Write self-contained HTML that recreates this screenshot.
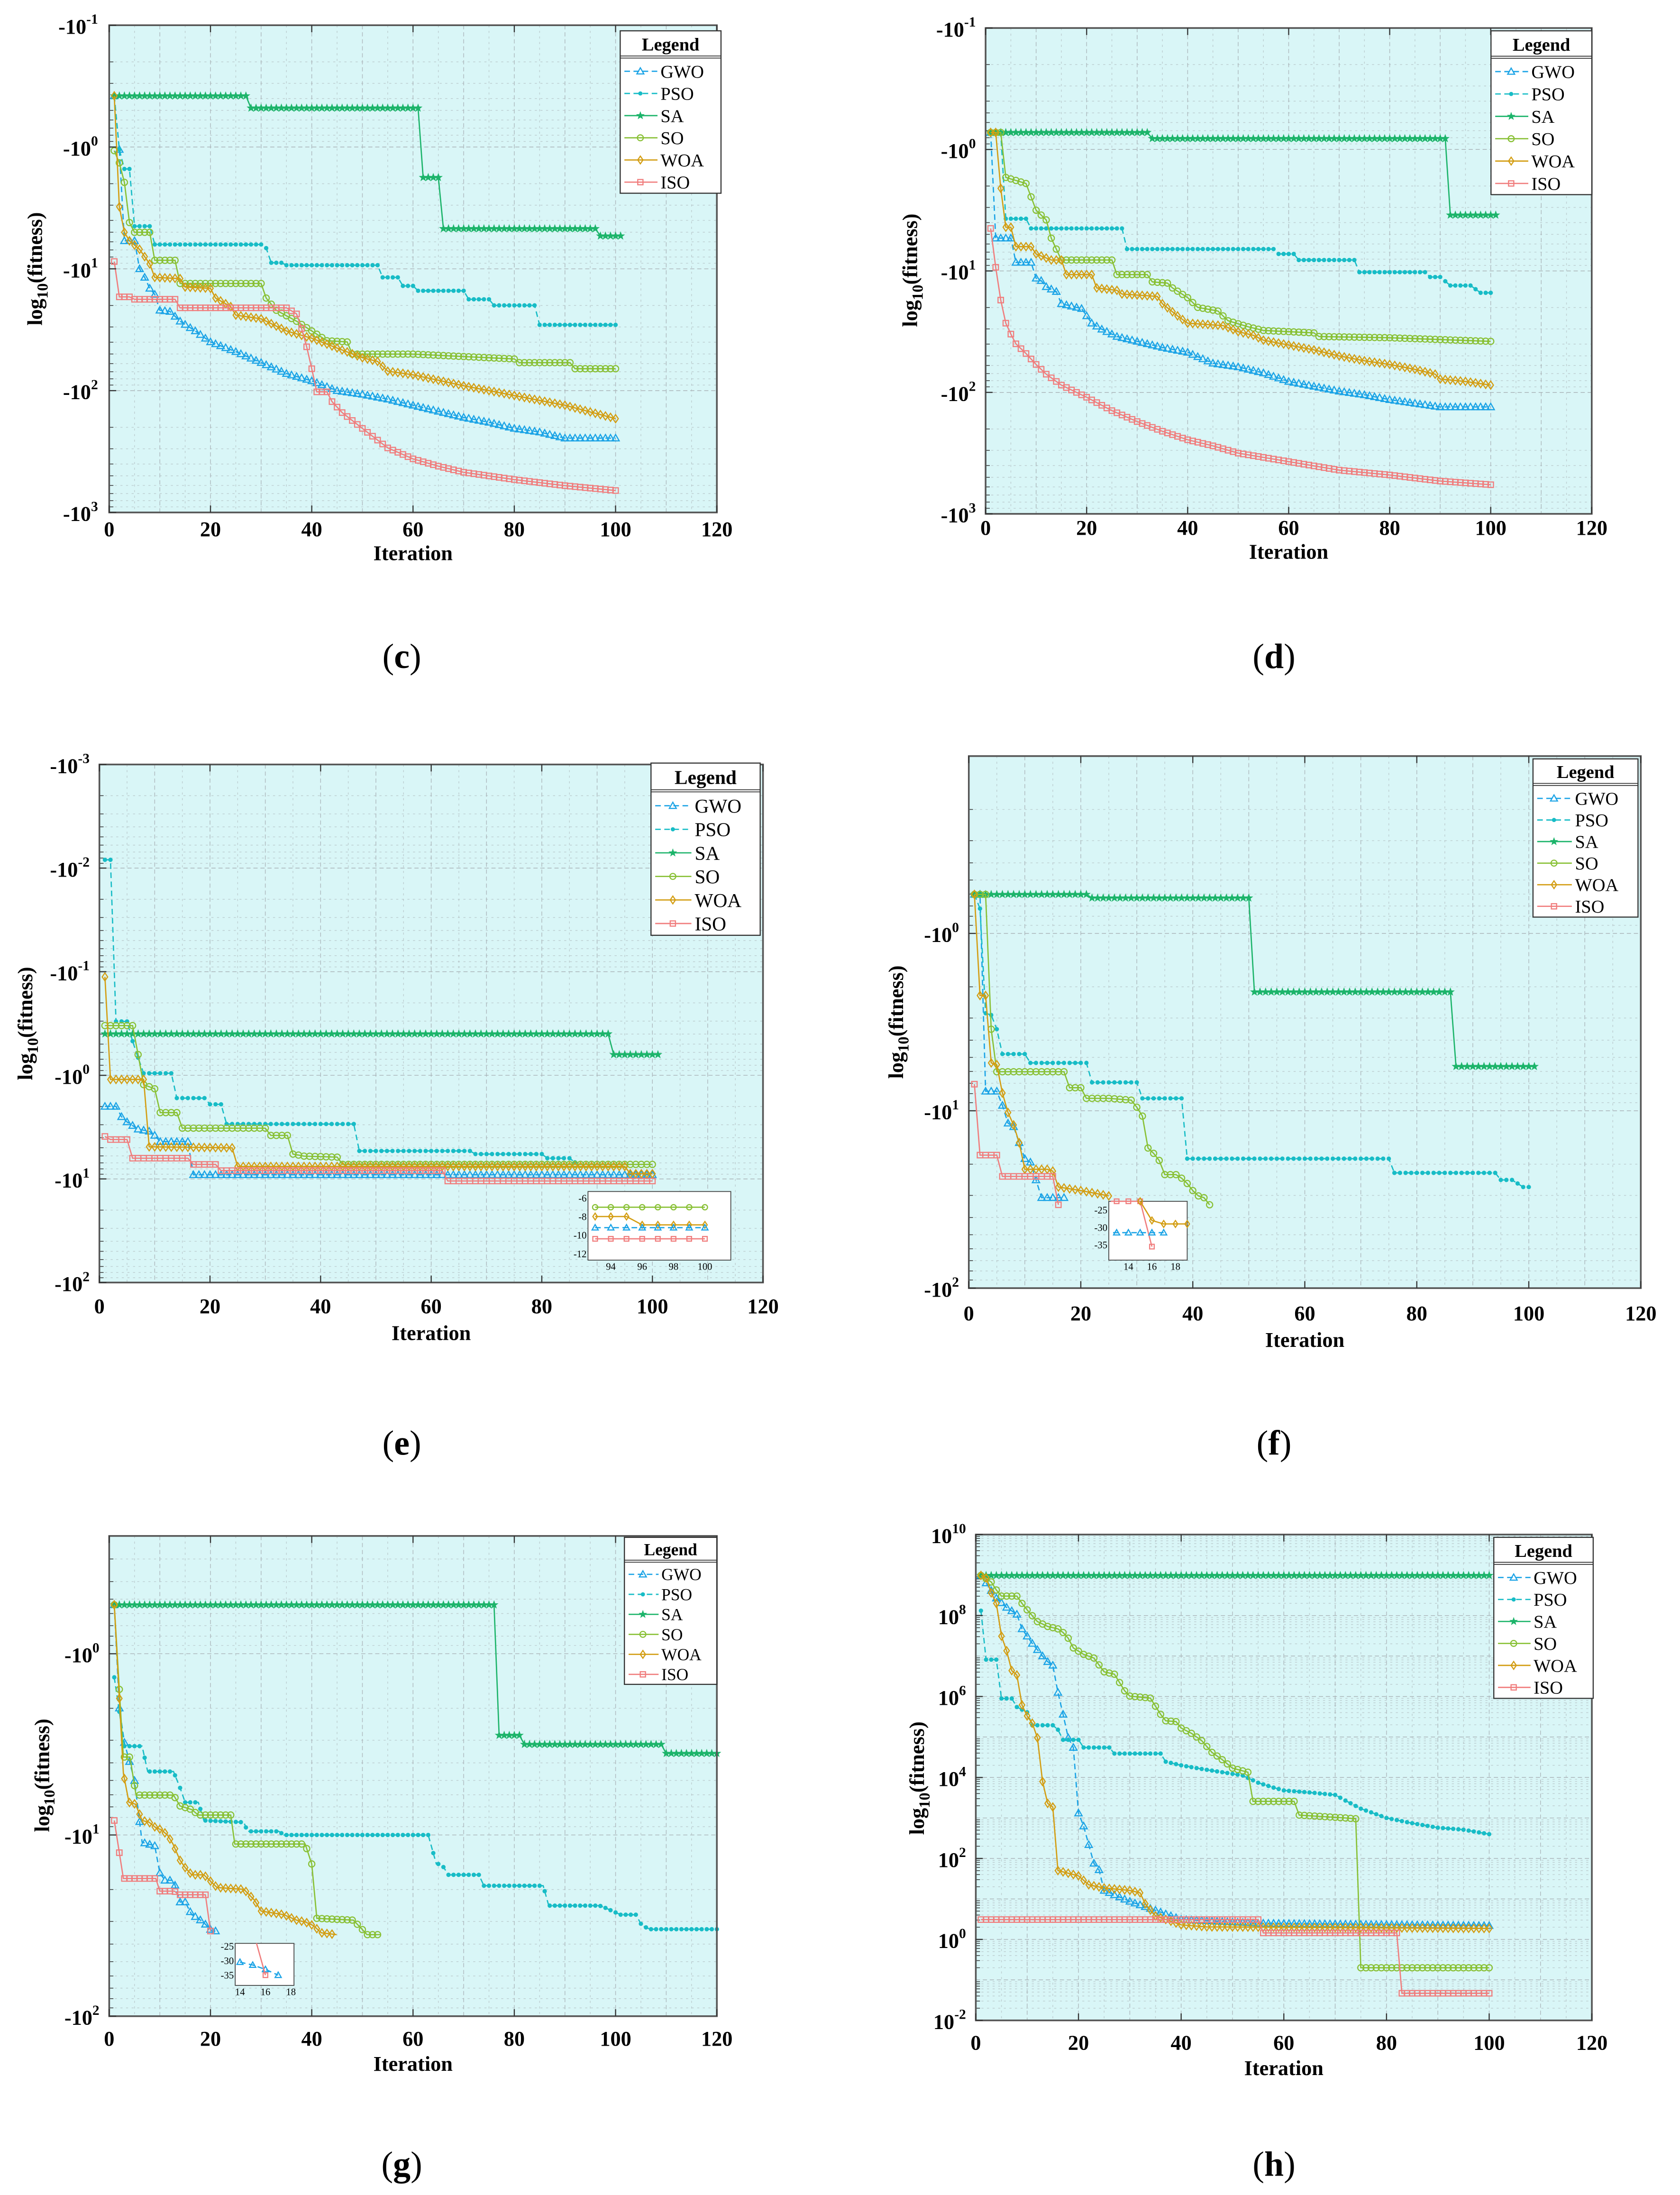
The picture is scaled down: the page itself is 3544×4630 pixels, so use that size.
<!DOCTYPE html>
<html><head><meta charset="utf-8">
<style>
html,body{margin:0;padding:0;background:#fff;}
svg{display:block;}
text{font-family:"Liberation Serif",serif;}
</style></head>
<body>
<svg id="chart" width="3544" height="4630" viewBox="0 0 1200 1567.7" xmlns="http://www.w3.org/2000/svg"></svg>
<script>
// ===== DATA (iteration, log10 exponent) =====
// Panel c
const c_GWO=[[1,-0.42],[2,0.02],[3,0.77],[5,0.77],[6,1.0],[7,1.07],[8,1.16],[9,1.21],[10,1.34],[12,1.35],[14,1.43],[17,1.51],[20,1.6],[25,1.68],[30,1.77],[35,1.86],[40,1.92],[45,2.0],[50,2.03],[55,2.07],[60,2.12],[65,2.17],[70,2.22],[75,2.26],[80,2.31],[85,2.34],[90,2.39],[100,2.39]];
const c_PSO=[[1,-0.42],[2,0.02],[3,0.18],[4,0.18],[5,0.65],[8,0.65],[9,0.80],[30,0.80],[31,0.83],[32,0.95],[34,0.95],[35,0.97],[53,0.97],[54,1.07],[57,1.07],[58,1.14],[60,1.14],[61,1.18],[70,1.18],[71,1.25],[75,1.25],[76,1.30],[84,1.30],[85,1.46],[100,1.46]];
const c_SA=[[1,-0.42],[27,-0.42],[28,-0.32],[61,-0.32],[62,0.25],[65,0.25],[66,0.67],[96,0.67],[97,0.73],[101,0.73]];
const c_SO=[[1,0.03],[2,0.13],[3,0.29],[4,0.62],[5,0.70],[8,0.70],[9,0.93],[13,0.93],[14,1.12],[30,1.12],[31,1.24],[33,1.34],[37,1.43],[40,1.51],[43,1.59],[47,1.60],[48,1.70],[60,1.70],[70,1.72],[80,1.74],[81,1.77],[91,1.77],[92,1.82],[100,1.82]];
const c_WOA=[[1,-0.42],[2,0.49],[3,0.70],[4,0.77],[6,0.84],[8,0.96],[9,1.07],[14,1.08],[15,1.15],[20,1.16],[21,1.24],[24,1.31],[25,1.38],[30,1.41],[35,1.51],[40,1.57],[45,1.65],[50,1.73],[53,1.76],[55,1.84],[60,1.87],[70,1.96],[80,2.04],[90,2.12],[100,2.23]];
const c_ISO=[[1,0.94],[2,1.23],[4,1.23],[5,1.25],[13,1.25],[14,1.32],[35,1.32],[37,1.37],[38,1.49],[39,1.64],[40,1.82],[41,2.01],[43,2.01],[44,2.09],[46,2.18],[50,2.31],[55,2.47],[60,2.56],[65,2.62],[70,2.67],[80,2.73],[90,2.78],[100,2.82]];
// Panel d
const d_GWO=[[1,-0.14],[2,0.73],[5,0.73],[6,0.93],[9,0.93],[10,1.06],[11,1.08],[12,1.13],[14,1.17],[15,1.27],[19,1.31],[21,1.43],[23,1.48],[26,1.54],[30,1.58],[35,1.63],[40,1.67],[45,1.76],[50,1.79],[55,1.84],[60,1.91],[65,1.95],[70,1.99],[75,2.02],[80,2.06],[85,2.09],[90,2.12],[100,2.12]];
const d_PSO=[[1,-0.14],[3,-0.14],[4,0.57],[8,0.57],[9,0.65],[27,0.65],[28,0.82],[57,0.82],[58,0.86],[61,0.86],[62,0.91],[73,0.91],[74,1.01],[87,1.01],[88,1.05],[90,1.05],[92,1.12],[96,1.12],[98,1.18],[100,1.18]];
const d_SA=[[1,-0.14],[32,-0.14],[33,-0.09],[91,-0.09],[92,0.54],[101,0.54]];
const d_SO=[[1,-0.14],[3,-0.14],[4,0.23],[8,0.28],[9,0.39],[10,0.50],[12,0.58],[13,0.73],[15,0.91],[25,0.91],[26,1.03],[32,1.03],[33,1.09],[36,1.10],[37,1.14],[40,1.22],[42,1.30],[46,1.33],[48,1.41],[52,1.46],[55,1.49],[65,1.51],[66,1.54],[80,1.55],[100,1.58]];
const d_WOA=[[1,-0.14],[2,-0.14],[3,0.32],[4,0.64],[5,0.64],[6,0.80],[9,0.80],[10,0.86],[13,0.91],[15,0.91],[16,1.03],[21,1.03],[22,1.14],[26,1.16],[27,1.19],[34,1.21],[35,1.27],[38,1.37],[40,1.43],[47,1.45],[50,1.50],[53,1.53],[55,1.57],[60,1.61],[65,1.65],[70,1.70],[75,1.74],[80,1.77],[85,1.81],[89,1.85],[90,1.89],[95,1.91],[100,1.94]];
const d_ISO=[[1,0.65],[2,0.97],[3,1.24],[4,1.43],[5,1.52],[6,1.60],[8,1.68],[10,1.77],[12,1.85],[15,1.94],[20,2.04],[25,2.15],[30,2.24],[35,2.32],[40,2.39],[45,2.44],[50,2.50],[60,2.57],[70,2.64],[80,2.68],[90,2.73],[100,2.76]];
// Panel e
const e_GWO=[[1,0.30],[3,0.30],[4,0.40],[5,0.45],[7,0.52],[9,0.54],[10,0.58],[11,0.64],[16,0.64],[17,0.96],[100,0.96]];
const e_PSO=[[1,-2.08],[2,-2.08],[3,-0.52],[5,-0.52],[6,-0.33],[7,-0.17],[8,-0.02],[13,-0.02],[14,0.22],[19,0.22],[20,0.28],[22,0.28],[23,0.47],[46,0.47],[47,0.73],[67,0.73],[68,0.76],[80,0.76],[81,0.80],[85,0.80],[86,0.84]];
const e_SA=[[1,-0.40],[92,-0.40],[93,-0.20],[101,-0.20]];
const e_SO=[[1,-0.48],[6,-0.48],[7,-0.20],[8,0.09],[10,0.13],[11,0.36],[14,0.36],[15,0.51],[30,0.51],[31,0.58],[34,0.58],[35,0.76],[37,0.78],[43,0.79],[44,0.86],[100,0.86]];
const e_WOA=[[1,-0.95],[2,0.04],[8,0.04],[9,0.69],[24,0.70],[25,0.88],[95,0.88],[96,0.95],[100,0.95]];
const e_ISO=[[1,0.59],[2,0.62],[5,0.62],[6,0.80],[16,0.80],[17,0.86],[21,0.86],[22,0.92],[62,0.92],[63,1.02],[100,1.02]];
const e_in_SO=[[93,-7],[100,-7]];
const e_in_WOA=[[93,-8],[95,-8],[96,-8.9],[100,-8.9]];
const e_in_GWO=[[93,-9.2],[100,-9.2]];
const e_in_ISO=[[93,-10.4],[100,-10.4]];
// Panel f
const f_GWO=[[1,-0.22],[2,-0.22],[3,0.89],[5,0.89],[6,0.97],[7,1.07],[8,1.09],[9,1.18],[10,1.27],[11,1.29],[12,1.39],[13,1.49],[17,1.49]];
const f_PSO=[[1,-0.22],[2,-0.14],[3,0.45],[4,0.46],[5,0.54],[6,0.68],[10,0.68],[11,0.73],[21,0.73],[22,0.84],[30,0.84],[31,0.93],[38,0.93],[39,1.27],[75,1.27],[76,1.35],[94,1.35],[95,1.39],[97,1.39],[98,1.41],[99,1.43],[100,1.43]];
const f_SA=[[1,-0.22],[21,-0.22],[22,-0.20],[50,-0.20],[51,0.33],[86,0.33],[87,0.75],[101,0.75]];
const f_SO=[[1,-0.22],[3,-0.22],[4,0.54],[5,0.78],[17,0.78],[18,0.87],[20,0.87],[21,0.93],[25,0.93],[29,0.94],[30,0.98],[31,1.03],[32,1.21],[33,1.24],[34,1.28],[35,1.36],[37,1.36],[38,1.38],[39,1.41],[40,1.45],[41,1.48],[42,1.49],[43,1.53]];
const f_WOA=[[1,-0.22],[2,0.35],[3,0.35],[4,0.73],[5,0.74],[6,0.90],[7,1.01],[8,1.08],[9,1.18],[10,1.33],[14,1.33],[15,1.34],[16,1.43],[20,1.45],[25,1.48]];
const f_ISO=[[1,0.85],[2,1.25],[5,1.25],[6,1.37],[15,1.37],[16,1.53]];
const f_in_ISO=[[12.5,-22.5],[15,-22.5],[16,-35.5]];
const f_in_WOA=[[15,-22.5],[16,-28],[17,-29],[19,-29]];
const f_in_GWO=[[12.7,-31.5],[17,-31.5]];
// Panel g
const g_GWO=[[1,-0.27],[2,0.30],[3,0.49],[5,0.70],[6.5,1.04],[9,1.06],[10,1.21],[11,1.25],[12.7,1.25],[14,1.37],[15,1.37],[16.3,1.44],[17.6,1.46],[18.9,1.49],[20.3,1.53],[21,1.53]];
const g_PSO=[[1,0.13],[2,0.32],[3,0.51],[6.5,0.51],[7.6,0.65],[12.7,0.65],[14,0.74],[15,0.82],[17.6,0.82],[18.7,0.92],[26.6,0.93],[27.3,0.98],[33.5,0.98],[34.5,1.0],[63,1.0],[64.6,1.16],[65.6,1.16],[67,1.22],[73,1.22],[74,1.28],[85.7,1.28],[86.8,1.39],[96.8,1.39],[97.8,1.40],[101,1.44],[104,1.44],[105.2,1.50],[106.8,1.52],[120,1.52]];
const g_SA=[[1,-0.27],[76,-0.27],[77,0.45],[81,0.45],[82,0.50],[109,0.50],[110,0.55],[120,0.55]];
const g_SO=[[1,-0.27],[2.8,0.57],[4.1,0.57],[5.3,0.78],[12.7,0.78],[14,0.84],[16.3,0.86],[17.6,0.89],[24,0.89],[24.8,1.05],[38.7,1.05],[40,1.16],[41,1.46],[48.2,1.47],[49.6,1.51],[50.9,1.55],[53.5,1.55]];
const g_WOA=[[1,-0.27],[2.8,0.66],[3.9,0.82],[5.2,0.83],[6.5,0.92],[7.9,0.93],[9.2,0.96],[10.2,0.97],[11.5,1.0],[12.6,1.05],[14,1.14],[15,1.18],[16.3,1.22],[18.7,1.22],[21.3,1.29],[26.6,1.30],[28.7,1.36],[30,1.42],[34.5,1.44],[37,1.47],[38.7,1.48],[40.3,1.50],[41.9,1.54],[44.9,1.55]];
const g_ISO=[[1,0.92],[2.8,1.24],[9.2,1.24],[10,1.31],[12.9,1.31],[13.7,1.33],[19,1.33],[20,1.53]];
const g_in_GWO=[[14,-30.5],[15,-31.5],[16,-33],[17,-35]];
const g_in_ISO=[[15.3,-24],[16,-35]];
// Panel h (positive log axis)
const h_GWO=[[1,8.99],[4,8.43],[6,8.2],[8,8.03],[9,7.67],[10,7.49],[11,7.31],[13,7.0],[14,6.86],[15,6.77],[16,6.1],[17,5.56],[18,4.98],[19,4.74],[20,3.12],[21,2.8],[23,1.88],[24,1.72],[25,1.21],[30,0.94],[35,0.72],[40,0.49],[55,0.40],[100,0.34]];
const h_PSO=[[1,8.12],[2,6.91],[4,6.91],[5,5.95],[7,5.95],[8,5.74],[10,5.61],[11,5.29],[15,5.29],[16,5.18],[17,4.93],[20,4.93],[21,4.74],[26,4.74],[27,4.59],[36,4.59],[37,4.39],[40,4.30],[44,4.21],[48,4.13],[52,4.05],[55,3.87],[58,3.75],[60,3.68],[65,3.63],[70,3.57],[72,3.43],[75,3.23],[80,3.0],[85,2.87],[90,2.76],[95,2.71],[100,2.60]];
const h_SA=[[1,8.99],[100,8.99]];
const h_SO=[[1,8.99],[3,8.83],[4,8.63],[5,8.48],[8,8.48],[9,8.3],[10,8.14],[12,7.85],[14,7.73],[16,7.67],[17,7.58],[18,7.44],[19,7.2],[21,7.04],[23,6.95],[25,6.61],[27,6.55],[29,6.14],[30,6.01],[34,5.96],[36,5.56],[37,5.4],[39,5.38],[40,5.22],[42,5.09],[44,4.91],[46,4.62],[48,4.44],[50,4.23],[53,4.13],[54,3.41],[62,3.41],[63,3.07],[72,3.0],[74,2.98],[75,-0.7],[100,-0.7]];
const h_WOA=[[1,8.99],[2,8.93],[3,8.56],[4,8.3],[5,7.49],[6,7.13],[7,6.64],[8,6.53],[9,5.79],[10,5.52],[11,5.34],[12,4.98],[13,3.9],[14,3.36],[15,3.27],[16,1.70],[20,1.57],[22,1.35],[25,1.27],[30,1.21],[32,1.15],[33,0.88],[35,0.58],[40,0.36],[45,0.31],[100,0.27]];
const h_ISO=[[1,0.49],[55,0.49],[56,0.16],[82,0.16],[83,-1.33],[100,-1.33]];

// ===== STYLE / LAYOUT =====
const NS='http://www.w3.org/2000/svg';
const svg=document.getElementById('chart');
function mk(tag,attrs,parent){const e=document.createElementNS(NS,tag);for(const k in attrs)e.setAttribute(k,attrs[k]);parent.appendChild(e);return e;}
const STY={
 GWO:{c:'#1aa3e6',dash:'4,2.5',m:'tri'},
 PSO:{c:'#17bcc6',dash:'4,2.5',m:'dot'},
 SA:{c:'#1cb46a',dash:'',m:'star'},
 SO:{c:'#88c034',dash:'',m:'circ'},
 WOA:{c:'#d39d12',dash:'',m:'dia'},
 ISO:{c:'#f07d7d',dash:'',m:'sq'}
};
const ORDER=['GWO','PSO','SA','SO','WOA','ISO'];
function marker(g,type,x,y,c,s){
 let e;
 if(type==='tri'){e=mk('polygon',{points:`${x},${y-s} ${x-s},${y+s*0.75} ${x+s},${y+s*0.75}`,fill:'none',stroke:c,'stroke-width':0.8},g);}
 else if(type==='dot'){e=mk('circle',{cx:x,cy:y,r:s*0.6,fill:c},g);}
 else if(type==='star'){let p=[];for(let i=0;i<10;i++){const a=-Math.PI/2+i*Math.PI/5;const r=i%2?s*0.45:s*1.1;p.push((x+r*Math.cos(a)).toFixed(2)+','+(y+r*Math.sin(a)).toFixed(2));}e=mk('polygon',{points:p.join(' '),fill:c,stroke:c,'stroke-width':0.3},g);}
 else if(type==='circ'){e=mk('circle',{cx:x,cy:y,r:s*0.85,fill:'none',stroke:c,'stroke-width':0.8},g);}
 else if(type==='dia'){e=mk('polygon',{points:`${x},${y-s*1.1} ${x+s*0.75},${y} ${x},${y+s*1.1} ${x-s*0.75},${y}`,fill:'none',stroke:c,'stroke-width':0.8},g);}
 else {e=mk('rect',{x:x-s*0.75,y:y-s*0.75,width:s*1.5,height:s*1.5,fill:'none',stroke:c,'stroke-width':0.8},g);}
 
 
}
function interp(pts,t){for(let i=0;i<pts.length-1;i++){if(t>=pts[i][0]&&t<=pts[i+1][0]){const a=pts[i],b=pts[i+1];if(b[0]===a[0])return b[1];return a[1]+(b[1]-a[1])*(t-a[0])/(b[0]-a[0]);}}return pts[pts.length-1][1];}
function drawSeries(g,pts,name,X,Y,ms,step){
 const st=STY[name];
 const sg=mk('g',{},g);
 
 
 const l=mk('polyline',{points:pts.map(p=>X(p[0]).toFixed(2)+','+Y(p[1]).toFixed(2)).join(' '),fill:'none',stroke:st.c,'stroke-width':0.9,'stroke-dasharray':st.dash||'none'},sg);
 
 
 const t0=Math.ceil(pts[0][0]),t1=pts[pts.length-1][0];
 for(let t=t0;t<=t1+1e-9;t+=step){marker(sg,st.m,X(t),Y(interp(pts,t)),st.c,ms);}
}
const PANELS=[
 {id:'c',x0:78,xs:3.617,kTop:-1,kBot:3,top:18,bot:366,neg:true,yt:[-1,0,1,2,3],ylx:70,ylab:[25,192],xl:383,it:400,leg:[443,22,72,116,13],cap:[287,469],
  s:{GWO:c_GWO,PSO:c_PSO,SA:c_SA,SO:c_SO,WOA:c_WOA,ISO:c_ISO}},
 {id:'d',x0:704,xs:3.608,kTop:-1,kBot:3,top:20,bot:367,neg:true,yt:[-1,0,1,2,3],ylx:697,ylab:[650,193],xl:382,it:399,leg:[1065,22,72,117,13],cap:[910,469],
  s:{GWO:d_GWO,PSO:d_PSO,SA:d_SA,SO:d_SO,WOA:d_WOA,ISO:d_ISO}},
 {id:'e',x0:71,xs:3.95,kTop:-3,kBot:2,top:546,bot:916,neg:true,yt:[-3,-2,-1,0,1,2],ylx:64,ylab:[18,731],xl:938,it:957,leg:[465,545,78,123,14],cap:[287,1031],
  s:{GWO:e_GWO,PSO:e_PSO,SA:e_SA,SO:e_SO,WOA:e_WOA,ISO:e_ISO},
  inset:{box:[420,851,102,49],xr:[92.6,100.5],x0:436.3,xs:11.2,vr:-6,yr:855.6,ys:6.63,xt:[94,96,98,100],yt:[-6,-8,-10,-12],
   s:{SO:e_in_SO,WOA:e_in_WOA,GWO:e_in_GWO,ISO:e_in_ISO}}},
 {id:'f',x0:692,xs:4.0,kTop:-1,kBot:2,top:540,bot:920,neg:true,yt:[0,1,2],ylx:685,ylab:[640,730],xl:943,it:962,leg:[1095,542,75,113,13],cap:[910,1031],
  s:{GWO:f_GWO,PSO:f_PSO,SA:f_SA,SO:f_SO,WOA:f_WOA,ISO:f_ISO},
  inset:{box:[792,858,56,42],xr:[12.3,19],x0:806,xs:8.4,vr:-25,yr:864.2,ys:2.49,xt:[14,16,18],yt:[-25,-30,-35],
   s:{ISO:f_in_ISO,WOA:f_in_WOA,GWO:f_in_GWO}}},
 {id:'g',x0:78,xs:3.617,kTop:-0.65,kBot:2,top:1097,bot:1440,neg:true,yt:[0,1,2],ylx:71,ylab:[30,1268],xl:1461,it:1479,leg:[446,1098,66,105,12],cap:[287,1546],
  s:{GWO:g_GWO,PSO:g_PSO,SA:g_SA,SO:g_SO,WOA:g_WOA,ISO:g_ISO},
  inset:{box:[168,1388,42,30],xr:[13.7,18.3],x0:171.4,xs:9.1,vr:-25,yr:1390,ys:2.07,xt:[14,16,18],yt:[-25,-30,-35],
   s:{GWO:g_in_GWO,ISO:g_in_ISO}}},
 {id:'h',x0:697,xs:3.667,kTop:10,kBot:-2,top:1096,bot:1443,neg:false,yt:[-2,0,2,4,6,8,10],ylx:690,ylab:[655,1270],xl:1464,it:1482,leg:[1067,1098,71,115,13],cap:[910,1546],
  s:{GWO:h_GWO,PSO:h_PSO,SA:h_SA,SO:h_SO,WOA:h_WOA,ISO:h_ISO}}
];
function txt(parent,x,y,str,size,opts){const t=mk('text',Object.assign({x:x,y:y,'font-size':size},opts||{}),parent);t.textContent=str;return t;}

PANELS.forEach(P=>{
 const g=mk('g',{},svg);
 
 
 const L=P.x0,R=P.x0+120*P.xs,T=P.top,B=P.bot;
 const X=v=>P.x0+v*P.xs;
 const Y=k=>T+(k-P.kTop)/(P.kBot-P.kTop)*(B-T);
 const bg=mk('rect',{x:L,y:T,width:R-L,height:B-T,fill:'#d9f6f7'},g);
 
 
 const gg=mk('g',{stroke:'#aab4b8','stroke-width':0.5,fill:'none'},g);
 
 
 for(let v=5;v<120;v+=5){mk('line',{x1:X(v),x2:X(v),y1:T,y2:B,'stroke-dasharray':v%10===0?'3,2':'1.5,2.5',opacity:v%10===0?0.9:0.6},gg);}
 const kmin=Math.min(P.kTop,P.kBot),kmax=Math.max(P.kTop,P.kBot);
 for(let k=Math.floor(kmin);k<=kmax;k++){
  if(k>=kmin&&k<=kmax)mk('line',{x1:L,x2:R,y1:Y(k),y2:Y(k),'stroke-dasharray':'3,2'},gg);
  for(let m=2;m<=9;m++){const kk=k+Math.log10(m);if(kk>kmin&&kk<kmax){mk('line',{x1:L,x2:R,y1:Y(kk),y2:Y(kk),'stroke-dasharray':'1.5,2.5',opacity:0.6},gg);
   mk('line',{x1:L,x2:L+3,y1:Y(kk),y2:Y(kk),stroke:'#333','stroke-dasharray':'none'},gg);}}
 }
 ORDER.forEach(n=>{drawSeries(g,P.s[n],n,X,Y,2.6,1);});
 const fr=mk('rect',{x:L,y:T,width:R-L,height:B-T,fill:'none',stroke:'#555','stroke-width':1.2},g);
 
 
 const xa=mk('g',{},g);
 
 
 for(let v=0;v<=120;v+=20){
  mk('line',{x1:X(v),x2:X(v),y1:B,y2:B-5,stroke:'#333','stroke-width':0.8},xa);
  mk('line',{x1:X(v),x2:X(v),y1:T,y2:T+5,stroke:'#333','stroke-width':0.8},xa);
  const t=txt(xa,X(v),P.xl,String(v),15,{'text-anchor':'middle','font-weight':'bold'});
  
  
 }
 const xt=txt(xa,(L+R)/2,P.it,'Iteration',15,{'text-anchor':'middle','font-weight':'bold'});
 
 
 const ya=mk('g',{},g);
 
 
 P.yt.forEach(k=>{
  mk('line',{x1:L,x2:L+5,y1:Y(k),y2:Y(k),stroke:'#333','stroke-width':0.8},ya);
  const t=mk('text',{x:P.ylx,y:Y(k)+6,'font-size':15,'text-anchor':'end','font-weight':'bold'},ya);
  
  
  const a=mk('tspan',{},t);a.textContent=(P.neg?'-':'')+'10';
  const b=mk('tspan',{dy:-7,'font-size':10},t);b.textContent=String(k);
 });
 const yl=mk('text',{x:0,y:0,'font-size':15,'font-weight':'bold','text-anchor':'middle',transform:`translate(${P.ylab[0]+5},${P.ylab[1]}) rotate(-90)`},ya);
 
 
 const y1=mk('tspan',{},yl);y1.textContent='log';
 const y2=mk('tspan',{dy:4,'font-size':11},yl);y2.textContent='10';
 const y3=mk('tspan',{dy:-4},yl);y3.textContent='(fitness)';
 const [lx,ly,lw,lh,fs]=P.leg;
 const lg=mk('g',{},g);
 
 
 mk('rect',{x:lx,y:ly,width:lw,height:lh,fill:'#fff',stroke:'#333','stroke-width':0.8},lg);
 const hh=lh*0.155;
 const lt=txt(lg,lx+lw/2,ly+hh*0.78,'Legend',fs,{'text-anchor':'middle','font-weight':'bold'});
 
 
 mk('line',{x1:lx,x2:lx+lw,y1:ly+hh,y2:ly+hh,stroke:'#333','stroke-width':0.6},lg);
 mk('line',{x1:lx,x2:lx+lw,y1:ly+hh+1.5,y2:ly+hh+1.5,stroke:'#333','stroke-width':0.6},lg);
 const rh=(lh-hh-3)/6;
 ORDER.forEach((n,i)=>{
  const cy=ly+hh+3+rh*(i+0.5);
  const eg=mk('g',{},lg);
  
  
  const st=STY[n];
  mk('line',{x1:lx+3,x2:lx+lw*0.37,y1:cy,y2:cy,stroke:st.c,'stroke-width':0.9,'stroke-dasharray':st.dash||'none'},eg);
  marker(eg,st.m,lx+lw*0.2,cy,st.c,2.5);
  txt(eg,lx+lw*0.4,cy+fs*0.35,n,fs,{});
 });
 if(P.inset){
  const I=P.inset;const [bx,by,bw,bh]=I.box;
  const ig=mk('g',{},g);
  
  
  mk('rect',{x:bx,y:by,width:bw,height:bh,fill:'#fff',stroke:'#444','stroke-width':0.6},ig);
  const IX=v=>I.x0+(v-I.xt[0])*I.xs;
  const IY=v=>I.yr+(I.vr-v)*I.ys;
  Object.keys(I.s).forEach(n=>{drawSeries(ig,I.s[n],n,IX,IY,2.2,1);});
  I.xt.forEach(v=>{const t=txt(ig,IX(v),by+bh+7,String(v),7,{'text-anchor':'middle'});});
  I.yt.forEach(v=>{const t=txt(ig,bx-1,IY(v)+2.5,String(v),7,{'text-anchor':'end'});});
 }
 const cp=mk('text',{x:P.cap[0],y:P.cap[1]+8,'font-size':25,'text-anchor':'middle'},g);
 
 
 const c1=mk('tspan',{},cp);c1.textContent='(';
 const c2=mk('tspan',{'font-weight':'bold'},cp);c2.textContent=P.id;
 const c3=mk('tspan',{},cp);c3.textContent=')';
});
</script>
</body></html>
